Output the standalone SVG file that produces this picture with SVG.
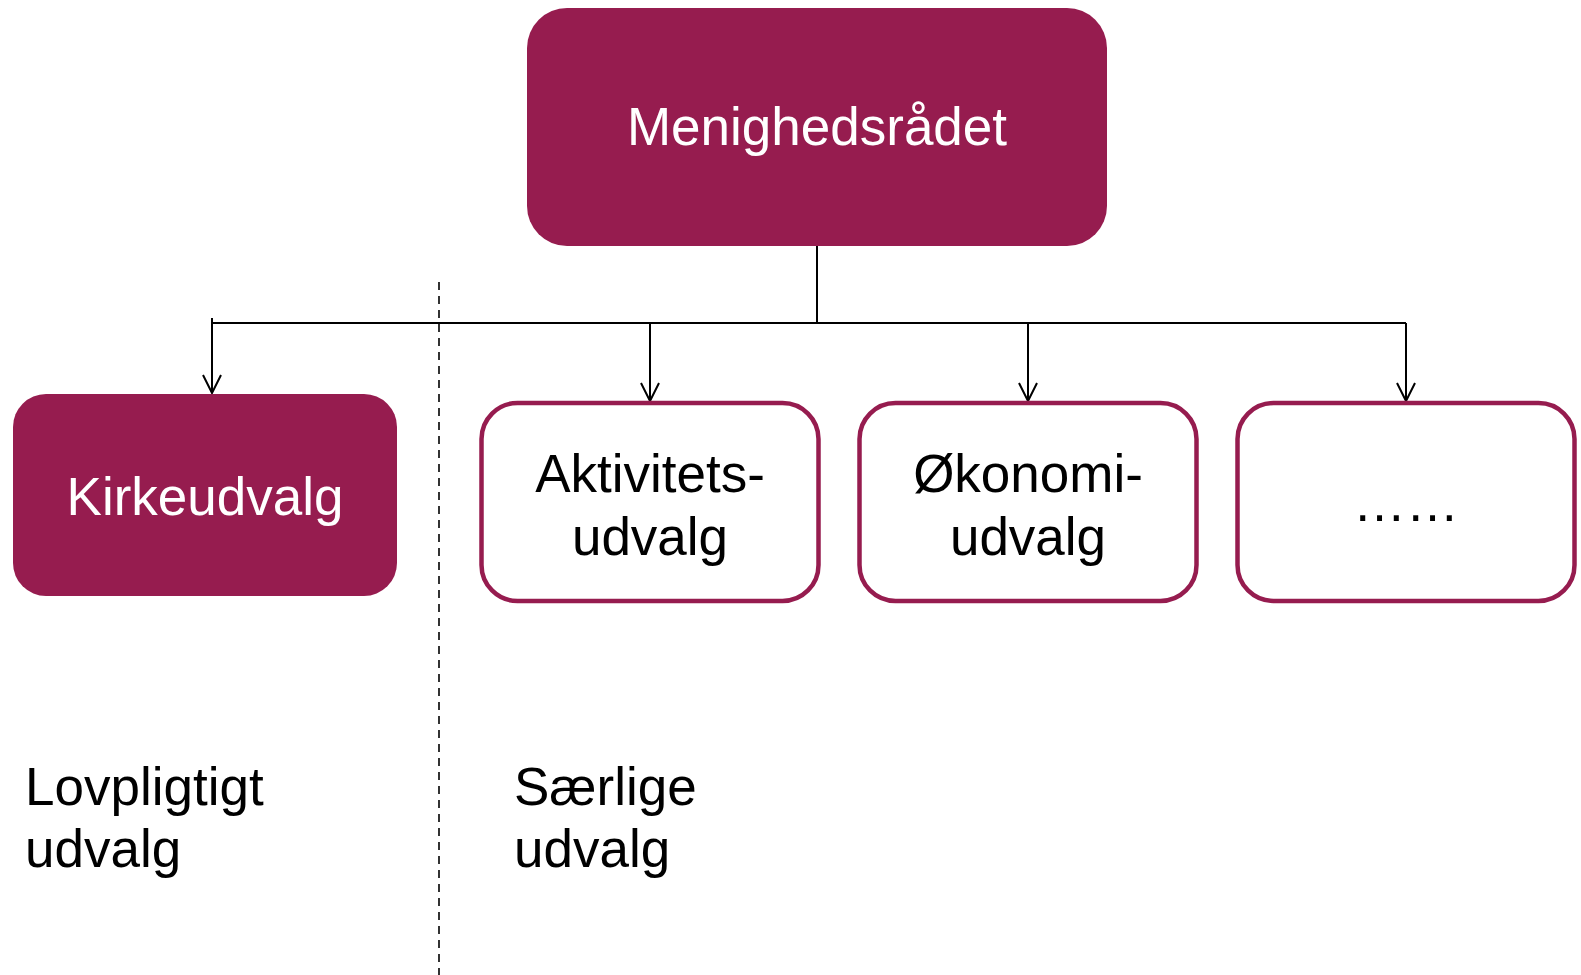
<svg xmlns="http://www.w3.org/2000/svg" width="1581" height="975" viewBox="0 0 1581 975">
<style>
.filled{fill:#961C4F;stroke:none}
.outlined{fill:#fff;stroke:#961C4F;stroke-width:4.5}
.t{font-family:"Liberation Sans",Arial,sans-serif;font-size:53px;text-anchor:middle}
.w{fill:#fff}
.k{fill:#000}
.lbl{font-family:"Liberation Sans",Arial,sans-serif;font-size:53px;fill:#000}
.c{fill:none;stroke:#000;stroke-width:2}
</style>
<defs>
<marker id="arr" markerUnits="userSpaceOnUse" markerWidth="24" markerHeight="24" viewBox="-12 -20 24 24" refX="0" refY="0" orient="auto-start-reverse" overflow="visible">
<path d="M-9,-18 L0,0 L9,-18" fill="none" stroke="#000" stroke-width="2" transform="rotate(-90)"/>
</marker>
</defs>
<rect width="1581" height="975" fill="#fff"/>
<g id="connectors">
<path class="c" d="M817,246 V323"/>
<path class="c" d="M212,323 H1406"/>
<path class="c" d="M212,318 V393" marker-end="url(#arr)"/>
<path class="c" d="M650,323 V401" marker-end="url(#arr)"/>
<path class="c" d="M1028,323 V401" marker-end="url(#arr)"/>
<path class="c" d="M1406,323 V401" marker-end="url(#arr)"/>
<path d="M439,282 V975" fill="none" stroke="#000" stroke-width="1.6" stroke-dasharray="8,6"/>
</g>
<g id="menighedsraadet">
<rect class="filled" x="527" y="8" width="580" height="238" rx="40"/>
<text class="t w" x="817" y="145">Menighedsrådet</text>
</g>
<g id="kirkeudvalg">
<rect class="filled" x="13" y="394" width="384" height="202" rx="33"/>
<text class="t w" x="205" y="515">Kirkeudvalg</text>
</g>
<g id="aktivitetsudvalg">
<rect class="outlined" x="481.5" y="403" width="337" height="198" rx="36"/>
<text class="t k" x="650" y="492">Aktivitets-</text>
<text class="t k" x="650" y="555">udvalg</text>
</g>
<g id="oekonomiudvalg">
<rect class="outlined" x="859.5" y="403" width="337" height="198" rx="36"/>
<text class="t k" x="1028" y="492">Økonomi-</text>
<text class="t k" x="1028" y="555">udvalg</text>
</g>
<g id="andre">
<rect class="outlined" x="1237.5" y="403" width="337" height="198" rx="36"/>
<text class="t k" x="1406" y="521">……</text>
</g>
<g id="labels">
<text class="lbl" x="25" y="805">Lovpligtigt</text>
<text class="lbl" x="25" y="867">udvalg</text>
<text class="lbl" x="514" y="805">Særlige</text>
<text class="lbl" x="514" y="867">udvalg</text>
</g>
</svg>
